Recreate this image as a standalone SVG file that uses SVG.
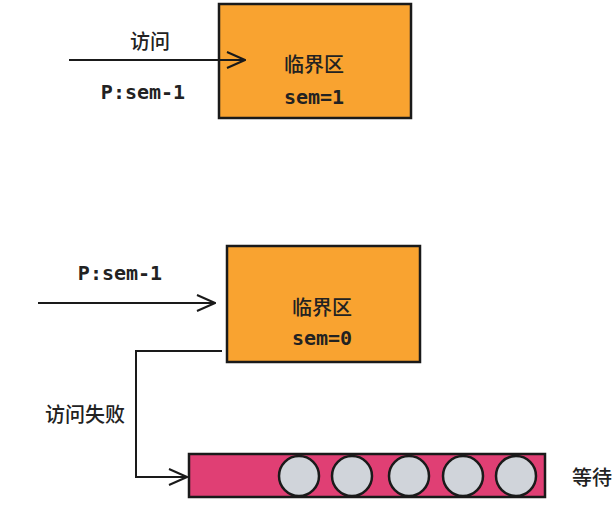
<svg xmlns="http://www.w3.org/2000/svg" width="614" height="508" viewBox="0 0 614 508">
<style>
.box{fill:#F9A330;stroke:#1a1a1a;stroke-width:2.5}
.queue{fill:#E03F74;stroke:#1a1a1a;stroke-width:2.5}
.ball{fill:#D0D4DA;stroke:#1a1a1a;stroke-width:2.5}
.line{fill:none;stroke:#1a1a1a;stroke-width:2}
.cn{font-family:"Noto Sans CJK SC",sans-serif;font-size:20px;font-weight:500;fill:#222;text-anchor:middle;dominant-baseline:central}
.mono{font-family:"DejaVu Sans Mono",monospace;font-size:20px;font-weight:bold;fill:#222;text-anchor:middle;dominant-baseline:central}
</style>
<defs>
<marker id="arr" viewBox="0 0 20 20" refX="19" refY="10" markerWidth="20" markerHeight="20" markerUnits="userSpaceOnUse" orient="auto">
<path d="M1,2 L19,10 L1,18" fill="none" stroke="#1a1a1a" stroke-width="2"/>
</marker>
</defs>
<g id="node-cs1">
<rect class="box" x="219" y="4" width="192" height="114"/>
<text class="cn" x="314" y="63">临界区</text>
<text class="mono" x="314" y="97">sem=1</text>
</g>
<g id="node-cs2">
<rect class="box" x="227" y="246" width="193" height="116"/>
<text class="cn" x="322" y="306">临界区</text>
<text class="mono" x="322" y="338">sem=0</text>
</g>
<g id="node-queue">
<rect class="queue" x="189" y="454" width="356" height="43"/>
<circle class="ball" cx="299" cy="476" r="20"/>
<circle class="ball" cx="352" cy="476" r="20"/>
<circle class="ball" cx="409" cy="476" r="20"/>
<circle class="ball" cx="463" cy="476" r="20"/>
<circle class="ball" cx="516" cy="476" r="20"/>
<text class="cn" x="592" y="476">等待</text>
</g>
<g id="connectors">
<path class="line" d="M69,60 H245" marker-end="url(#arr)"/>
<path class="line" d="M38,303 H215" marker-end="url(#arr)"/>
<path class="line" d="M222,351 H136 V477 H187" marker-end="url(#arr)"/>
</g>
<g id="labels">
<text class="cn" x="150" y="40">访问</text>
<text class="mono" x="143" y="92">P:sem-1</text>
<text class="mono" x="120" y="273">P:sem-1</text>
<text class="cn" x="85" y="413">访问失败</text>
</g>
</svg>
